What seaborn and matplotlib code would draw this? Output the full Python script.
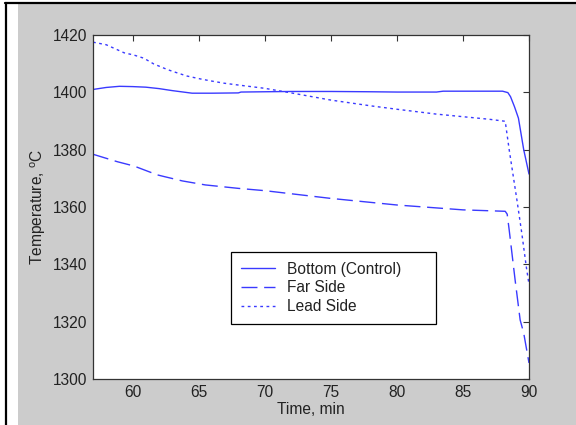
import matplotlib
matplotlib.use("Agg")
import matplotlib.pyplot as plt
import seaborn as sns
import pandas as pd
from matplotlib.patches import Rectangle
from matplotlib.lines import Line2D

# ---- data ----
bottom_t = [57, 58, 59, 60, 61, 62, 63, 64, 64.5, 66, 68, 68.2, 70, 72, 75, 78, 80, 83, 83.5, 86, 88, 88.4, 88.6, 88.9, 89.2, 89.6, 90]
bottom_v = [1401, 1401.7, 1402.1, 1402, 1401.8, 1401.3, 1400.6, 1400, 1399.7, 1399.7, 1399.8, 1400.1, 1400.2, 1400.3, 1400.3, 1400.2, 1400.1, 1400.1, 1400.4, 1400.4, 1400.4, 1399.9, 1398.5, 1395, 1391, 1380, 1371.5]

far_t = [57, 58.84, 60.1, 61.87, 62.4, 63.76, 65.5, 68, 70, 75, 80, 85, 88.2, 88.35, 88.5, 88.95, 89.33, 89.6, 90]
far_v = [1378.4, 1375.8, 1374.3, 1371.2, 1370.6, 1369.1, 1367.7, 1366.5, 1365.7, 1363, 1360.7, 1359, 1358.5, 1357.5, 1352, 1334.5, 1320.6, 1316, 1305.6]

lead_t = [57, 58, 59.35, 60.1, 60.85, 61.6, 62.6, 63.1, 64.1, 65.1, 65.9, 66.9, 67.9, 70, 72, 75, 78, 80, 83, 85, 87, 88.2, 88.5, 88.8, 89.1, 89.45, 89.8, 90]
lead_v = [1417.5, 1416.6, 1413.8, 1413, 1411.9, 1409.9, 1408, 1407.2, 1405.7, 1404.7, 1404, 1403.2, 1402.6, 1401.4, 1399.8, 1397.3, 1395.3, 1394.1, 1392.4, 1391.5, 1390.6, 1389.9, 1380, 1371, 1362, 1351, 1339, 1333]

series_names = ["Bottom (Control)", "Far Side", "Lead Side"]
x_ticks = [60, 65, 70, 75, 80, 85, 90]
y_ticks = [1300, 1320, 1340, 1360, 1380, 1400, 1420]

# ---- style ----
sns.set_style("white")
plt.rcParams['font.family'] = ['Liberation Sans', 'DejaVu Sans']
TXT = "#222222"
LINE = "#3a3aff"

W, H = 576, 425
fig = plt.figure(figsize=(W / 100, H / 100), dpi=100)
fig.patch.set_facecolor("white")
# gray MATLAB figure background + black frame
fig.add_artist(Rectangle((18 / W, 0), 1 - 18 / W, 1 - 4 / H, transform=fig.transFigure,
                         facecolor="#cccccc", edgecolor="none", zorder=-5))
fig.add_artist(Line2D([5 / W, 1], [1 - 3 / H, 1 - 3 / H], transform=fig.transFigure,
                      color="black", lw=1.6, zorder=-4))
fig.add_artist(Line2D([6 / W, 6 / W], [0, 1 - 3 / H], transform=fig.transFigure,
                      color="black", lw=1.6, zorder=-4))

ax = fig.add_axes([93 / W, 1 - 379 / H, (529 - 93) / W, (379 - 35) / H])
ax.set_facecolor("white")

df_b = pd.DataFrame({"t": bottom_t, "v": bottom_v})
df_f = pd.DataFrame({"t": far_t, "v": far_v})
df_l = pd.DataFrame({"t": lead_t, "v": lead_v})

sns.lineplot(data=df_b, x="t", y="v", ax=ax, color=LINE, lw=1.0, label=series_names[0],
             estimator=None, sort=False)
sns.lineplot(data=df_f, x="t", y="v", ax=ax, color=LINE, lw=1.0, label=series_names[1],
             estimator=None, sort=False, linestyle=(0, (11.5, 4.8)))
sns.lineplot(data=df_l, x="t", y="v", ax=ax, color=LINE, lw=1.0, label=series_names[2],
             estimator=None, sort=False, linestyle=(0, (2, 2.5)))

ax.set_xlim(57, 90)
ax.set_ylim(1300, 1420)
ax.set_xticks(x_ticks)
ax.set_yticks(y_ticks)
ax.tick_params(direction="in", length=4, width=0.8, colors="#333333", labelcolor=TXT,
               labelsize=11.2, top=True, right=True, pad=4)
for s in ax.spines.values():
    s.set_color("#333333")
    s.set_linewidth(0.9)
    s.set_visible(True)

ax.set_xlabel("Time, min", fontsize=11.2, color=TXT, labelpad=2)
ax.set_ylabel("Temperature, $^{\\mathregular{o}}$C", fontsize=11.2, color=TXT, labelpad=4)

leg = ax.legend(loc="lower left", bbox_to_anchor=((231 - 93) / 436, (379 - 324) / 344, (436 - 231) / 436, 0.2),
                mode="expand", fontsize=11.2, frameon=True, fancybox=False, shadow=False,
                framealpha=1, edgecolor="black", borderpad=0.62, labelspacing=0.25,
                handlelength=2.2, handletextpad=0.8, borderaxespad=0)
leg.get_frame().set_linewidth(0.9)
for t in leg.get_texts():
    t.set_color(TXT)

fig.savefig("out.png", dpi=100, facecolor=fig.get_facecolor())
